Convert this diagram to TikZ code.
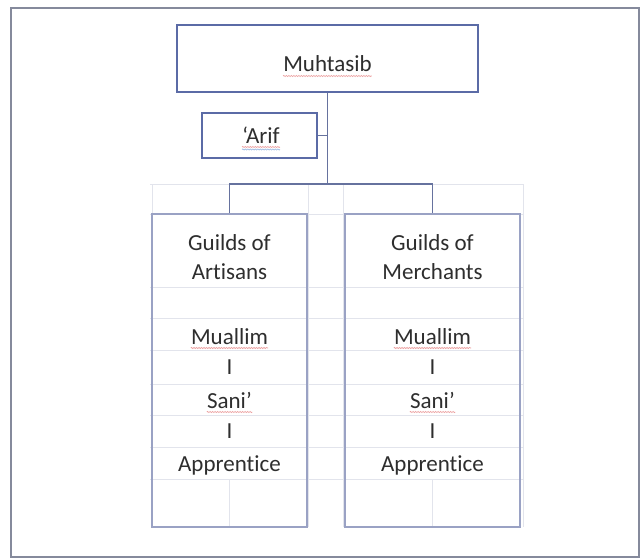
\documentclass[tikz,border=0pt]{standalone}
\usepackage{fontspec}
\setmainfont{Carlito}[Ligatures={TeX,NoCommon}]
\usetikzlibrary{decorations.pathmorphing}
\definecolor{frameC}{HTML}{858A9C}
\definecolor{boxC}{HTML}{5B6BA6}
\definecolor{colC}{HTML}{9AA2C4}
\definecolor{lineC}{HTML}{66729E}
\definecolor{gridC}{HTML}{E2E4EC}
\definecolor{txtC}{HTML}{2E2E2E}
\definecolor{spellC}{HTML}{E06060}
\definecolor{gramC}{HTML}{6090D0}
\begin{document}
\begin{tikzpicture}[x=1pt,y=-1pt,
  lbl/.style={anchor=base, text=txtC, font=\fontsize{23}{28}\selectfont, inner sep=0pt},
  topbox/.style={draw=boxC, line width=1.8pt, rectangle, inner sep=0pt},
  colbox/.style={draw=colC, line width=1.5pt, rectangle, inner sep=0pt},
  conn/.style={draw=lineC, line width=1.5pt},
  gridline/.style={draw=gridC, line width=0.8pt},
  spell/.style={draw=spellC, opacity=0.6, line width=0.7pt, decorate, decoration={snake, amplitude=0.6pt, segment length=2.5pt}},
  gram/.style={draw=gramC, opacity=0.6, line width=0.7pt, decorate, decoration={snake, amplitude=0.6pt, segment length=2.5pt}},
]
\useasboundingbox (0,0) rectangle (642,559);
\fill[white] (0,0) rectangle (642,559);
% outer frame
\draw[frameC, line width=2pt] (11,8) rectangle (639,557);
% faint table grid
\foreach \yy in {184,214,287,318,350,384,415,447,479}
  \draw[gridline] (150,\yy) -- (523,\yy);
\foreach \xx in {152,308,343,523}
  \draw[gridline] (\xx,184) -- (\xx,527);
\foreach \xx in {229.5,432.5}
  \draw[gridline] (\xx,479) -- (\xx,527);
% boxes
\node[topbox, minimum width=301pt, minimum height=67pt] (muhbox) at (327.5,58.5) {};
\node[topbox, minimum width=115pt, minimum height=45pt] (arifbox) at (259.5,135.5) {};
\node[colbox, minimum width=155pt, minimum height=313pt] (lcol) at (229.5,370.5) {};
\node[colbox, minimum width=175pt, minimum height=313pt] (rcol) at (432.5,370.5) {};
% connectors
\coordinate (j1) at (327.5,135.5);
\coordinate (j2) at (327.5,184);
\draw[conn] (muhbox.south) -- (j2);
\draw[conn] (arifbox.east) -- (j1);
\draw[conn] (lcol.north) |- (j2) -| (rcol.north);
% texts
\node[lbl] (muhT) at (327.5,72) {Muhtasib};
\node[lbl] (arifT) at (261,143) {‘Arif};
\node[lbl] (lg1) at (229.5,250) {Guilds of};
\node[lbl] (lg2) at (229.5,279) {Artisans};
\node[lbl] (lm) at (229.5,344) {Muallim};
\node[lbl] (lb1) at (229.5,374) {I};
\node[lbl] (ls) at (229.5,408) {Sani’};
\node[lbl] (lb2) at (229.5,438) {I};
\node[lbl] (la) at (229.5,471) {Apprentice};
\node[lbl] (rg1) at (432.5,250) {Guilds of};
\node[lbl] (rg2) at (432.5,279) {Merchants};
\node[lbl] (rm) at (432.5,344) {Muallim};
\node[lbl] (rb1) at (432.5,374) {I};
\node[lbl] (rs) at (432.5,408) {Sani’};
\node[lbl] (rb2) at (432.5,438) {I};
\node[lbl] (ra) at (432.5,471) {Apprentice};
% spell-check marks
\draw[spell] ([yshift=-4pt]muhT.base west) -- ([yshift=-4pt]muhT.base east);
\draw[spell] ([yshift=-4pt]arifT.base west) -- ([yshift=-4pt]arifT.base east);
\draw[gram] ([yshift=-6.5pt]arifT.base west) -- ([yshift=-6.5pt]arifT.base east);
\draw[spell] ([yshift=-4pt]lm.base west) -- ([yshift=-4pt]lm.base east);
\draw[spell] ([yshift=-4pt]rm.base west) -- ([yshift=-4pt]rm.base east);
\draw[spell] ([yshift=-4pt]ls.base west) -- ([yshift=-4pt]ls.base east);
\draw[spell] ([yshift=-4pt]rs.base west) -- ([yshift=-4pt]rs.base east);
\end{tikzpicture}
\end{document}
